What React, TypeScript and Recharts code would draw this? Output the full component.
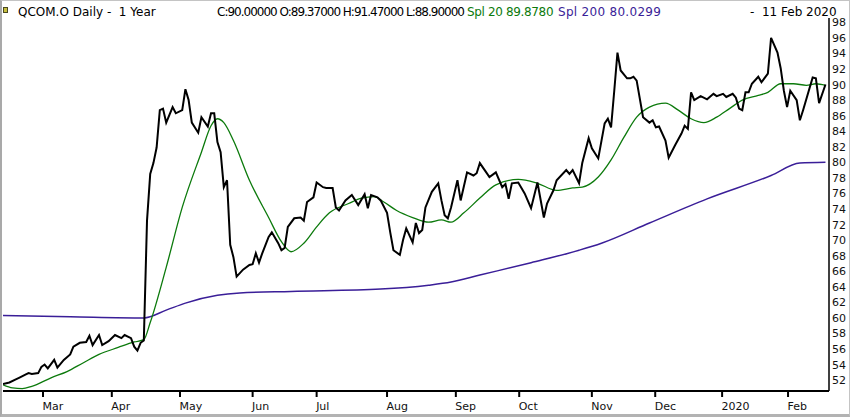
import React from "react";
import { LineChart, Line, XAxis, YAxis } from "recharts";

// trading-day index of each month label on the time axis
const monthTicks = [12.5, 34, 55.3, 78, 98, 120, 141.5, 161.3, 184, 203.8, 224.7, 245.3];
const monthLabels = ["Mar", "Apr", "May", "Jun", "Jul", "Aug", "Sep", "Oct", "Nov", "Dec", "2020", "Feb"];
const priceTicks = [52, 54, 56, 58, 60, 62, 64, 66, 68, 70, 72, 74, 76, 78, 80, 82, 84, 86, 88, 90, 92, 94, 96, 98];

// QCOM.O daily close
const closeDay = [
  0, 2, 4, 5, 7, 8, 9, 11, 12, 13, 14, 16, 17, 19, 21, 22, 24, 26, 27, 28, 30, 31, 33, 35, 37, 38, 40, 41, 42, 43,
  44, 45, 46, 47, 48, 49, 50, 51, 53, 54, 56, 57, 58, 59, 61, 62, 64, 65, 66, 67, 68, 69, 70, 71, 72, 73, 75, 77,
  78, 79, 80, 81, 83, 84, 86, 87, 88, 89, 91, 93, 94, 95, 97, 98, 100, 101, 103, 104, 105, 107, 109, 111, 113, 114,
  115, 117, 118, 120, 121, 122, 124, 125, 126, 128, 129, 130, 131, 132, 134, 136, 137, 138, 139, 140, 142, 143,
  145, 147, 148, 149, 151, 152, 154, 156, 157, 158, 159, 161, 163, 165, 167, 169, 170, 172, 173, 176, 177, 178,
  180, 181, 183, 184, 186, 188, 189, 190, 191, 192, 193, 195, 196, 197, 198, 200, 202, 203, 204, 205, 207, 208,
  210, 212, 213, 214, 215, 216, 218, 220, 222, 223, 225, 226, 228, 229, 230, 231, 232, 233, 234, 236, 237, 239,
  240, 242, 243, 244, 245, 246, 248, 249, 250, 253, 254, 255, 257,
];
const closeValue = [
  51.5, 51.7, 52.1, 52.3, 52.7, 52.9, 52.8, 52.9, 53.7, 54.0, 53.5, 54.6, 53.6, 54.6, 55.3, 56.3, 56.8, 56.9, 57.7,
  56.5, 57.8, 56.5, 57.0, 57.8, 57.4, 57.8, 57.4, 56.3, 55.8, 56.8,
  57.1, 72.5, 78.5, 79.9, 81.9, 86.7, 86.9, 85.1, 87.1, 86.3, 86.7, 89.4, 88.0, 85.1, 83.8, 85.8, 84.6, 86.3, 86.3,
  82.6, 81.3, 76.8, 77.7, 69.4, 67.8, 65.3, 66.2, 66.8,
  66.9, 68.3, 67.1, 68.3, 70.4, 71.0, 69.6, 68.7, 69.0, 71.7, 72.8, 72.9, 72.5, 74.9, 75.5, 77.4, 76.8, 76.7, 76.7,
  74.2, 73.8, 75.1, 75.8, 74.5, 75.9, 74.1,
  75.8, 75.5, 75.1, 73.5, 71.0, 68.7, 68.1, 70.0, 71.5, 69.7, 72.2, 70.9, 71.3, 74.2, 76.2, 77.3, 75.1, 73.2, 72.8,
  74.2, 77.7, 75.1,
  78.7, 78.3, 78.6, 79.9, 78.7, 78.1, 78.7, 76.8, 77.2, 75.3, 77.3, 77.4, 76.0, 74.1, 77.4, 72.9, 74.7, 76.4, 77.7,
  79.0, 78.5, 79.0,
  77.3, 79.9, 83.1, 81.8, 80.5, 85.0, 85.6, 84.5, 89.2, 94.1, 91.8, 90.8, 90.8, 91.0, 90.5, 85.8, 85.1, 85.4, 84.5,
  84.6, 82.8, 80.6,
  82.2, 83.7, 84.7, 84.3, 89.0, 88.0, 88.5, 88.1, 88.8, 88.5, 88.8, 88.4, 88.8, 88.3, 86.9, 86.7, 89.0, 89.0, 90.1,
  91.0, 90.3, 91.4,
  96.0, 94.1, 92.1, 89.2, 87.1, 89.2, 88.0, 85.4, 86.7, 90.9, 90.8, 87.6, 90.0,
];

// Spl 20
const spl20Day = [
  0, 3, 6, 9, 15, 20, 25, 30, 36, 41, 44, 46, 51, 56, 62, 65, 67, 69, 72, 77, 83, 87, 90, 94, 98, 102, 108, 112,
  116, 119, 123, 128, 133, 137, 140, 144, 149, 154, 161, 167, 173, 178, 181, 186, 190, 194, 198, 202, 207, 211,
  215, 219, 223, 227, 231, 236, 239, 243, 247, 251, 254, 257,
];
const spl20Value = [
  51.4, 51.0, 50.9, 51.2, 52.3, 53.1, 54.2, 55.3, 56.2, 56.9, 57.2, 59.4, 66.5, 74.2, 81.3, 84.7, 85.6, 85.1, 82.8,
  77.7, 72.9, 69.8, 68.5, 69.6, 71.7, 73.5, 74.7, 75.4,
  75.6, 74.9, 73.8, 72.9, 72.3, 72.6, 72.3, 73.5, 75.4, 77.1, 77.8, 77.3, 76.4, 76.7, 76.8, 78.1, 80.3, 83.2, 85.8,
  87.1, 87.6, 86.7,
  85.6, 85.1, 85.8, 86.9, 88.0, 88.6, 89.0, 90.1, 90.1, 89.9, 90.1, 89.9,
];

// Spl 200
const spl200Day = [0, 21, 44, 51, 57, 67, 74, 90, 118, 133, 140, 149, 165, 180, 187, 202, 220, 240, 249, 257];
const spl200Value = [
  60.3, 60.15, 60.0, 61.0, 61.9, 62.9, 63.2, 63.4, 63.7, 64.2, 64.6, 65.5, 67.1, 68.7, 69.6, 72.2, 75.3, 78.3,
  79.9, 80.0,
];

const closeData = closeDay.map((day, i) => ({ day, v: closeValue[i] }));
const spl20Data = spl20Day.map((day, i) => ({ day, v: spl20Value[i] }));
const spl200Data = spl200Day.map((day, i) => ({ day, v: spl200Value[i] }));

const FONT = "'DejaVu Sans', Verdana, sans-serif";
const GREEN = "#0c7a0c";
const PURPLE = "#3a1e98";

const MonthTick = (props: any) => {
  const { x, y, payload } = props;
  const label = monthLabels[monthTicks.indexOf(payload.value)];
  return (
    <text x={x - 0.5} y={y} dy={11} textAnchor="start" fontFamily={FONT} fontSize={11} fill="#111">
      {label}
    </text>
  );
};

const PriceTick = (props: any) => {
  const { x, y, payload } = props;
  return (
    <text x={x} y={y} dy={4} textAnchor="start" fontFamily={FONT} fontSize={11} fill="#111">
      {payload.value}
    </text>
  );
};

const Header = () => (
  <svg width={850} height={22} style={{ position: "absolute", left: 0, top: 0 }}>
    <rect x={3.5} y={7.5} width={4} height={5} fill="#c8c040" stroke="#4a4a20" strokeWidth={1} />
    <g fontFamily={FONT} fontSize={12}>
      <text x={18} y={16} fill="#000" xmlSpace="preserve">
        QCOM.O Daily -  1 Year
      </text>
      <text x={217} y={16} fill="#000" letterSpacing={-1}>
        C:90.00000 O:89.37000 H:91.47000 L:88.90000
      </text>
      <text x={467} y={16} fill={GREEN} letterSpacing={-0.35}>
        Spl 20 89.8780
      </text>
      <text x={558} y={16} fill={PURPLE} letterSpacing={0.3}>
        Spl 200 80.0299
      </text>
      <text x={750} y={16} fill="#000" xmlSpace="preserve">
        -  11 Feb 2020
      </text>
    </g>
  </svg>
);

export default function App() {
  return (
    <div style={{ position: "absolute", left: 0, top: 0, width: 850, height: 417, background: "#fff" }}>
      <LineChart width={850} height={417} margin={{ top: 18, right: 0, bottom: 0, left: 3 }}>
        <XAxis
          type="number"
          dataKey="day"
          domain={[0, 258.1]}
          ticks={monthTicks}
          allowDataOverflow
          interval={0}
          height={26}
          tickSize={6}
          tickMargin={2}
          axisLine={{ stroke: "#000", strokeWidth: 2 }}
          tickLine={{ stroke: "#000", strokeWidth: 2 }}
          tick={<MonthTick />}
        />
        <YAxis
          orientation="right"
          type="number"
          domain={[50.6, 98.55]}
          ticks={priceTicks}
          allowDataOverflow
          interval={0}
          width={21}
          tickSize={0}
          tickMargin={3}
          tickLine={false}
          axisLine={{ stroke: "#000", strokeWidth: 1.5 }}
          tick={<PriceTick />}
        />
        <Line
          data={spl200Data}
          dataKey="v"
          type="monotone"
          stroke={PURPLE}
          strokeWidth={1.5}
          dot={false}
          isAnimationActive={false}
        />
        <Line
          data={spl20Data}
          dataKey="v"
          type="monotone"
          stroke={GREEN}
          strokeWidth={1.3}
          dot={false}
          isAnimationActive={false}
        />
        <Line
          data={closeData}
          dataKey="v"
          type="linear"
          stroke="#000"
          strokeWidth={2}
          dot={false}
          isAnimationActive={false}
        />
      </LineChart>
      <Header />
      <div
        style={{
          position: "absolute",
          left: 0,
          top: 0,
          width: 850,
          height: 417,
          boxSizing: "border-box",
          borderLeft: "2px solid #a9a9a9",
          borderTop: "1px solid #c4c4c4",
          borderRight: "1px solid #c4c4c4",
          borderBottom: "3px solid #b3b3b3",
          pointerEvents: "none",
        }}
      />
    </div>
  );
}
